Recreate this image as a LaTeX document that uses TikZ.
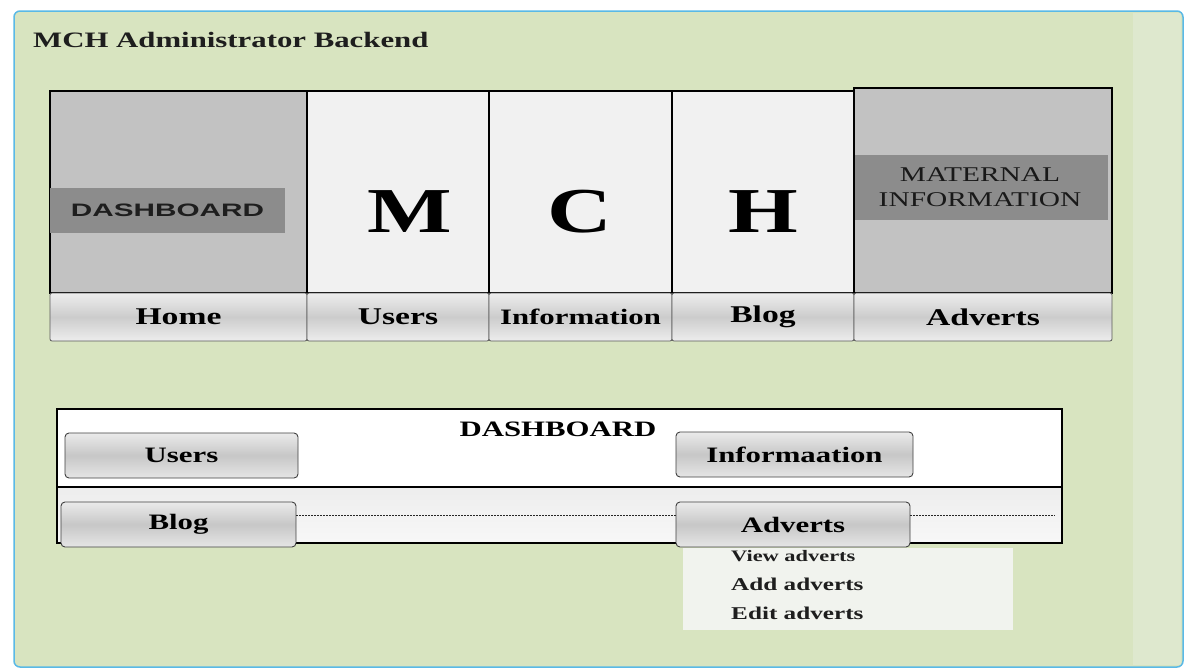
\documentclass[tikz,border=0pt]{standalone}
\usepackage{fontspec}
\setmainfont{Liberation Serif}
\newfontfamily\wserif[FakeStretch=1.4]{Liberation Serif}
\newfontfamily\wsans[FakeStretch=1.65]{Liberation Sans}
\definecolor{bggreen}{RGB}{216,228,192}
\definecolor{bgband}{RGB}{222,232,206}
\definecolor{framblue}{RGB}{90,185,230}
\definecolor{colgray}{RGB}{194,194,194}
\definecolor{bandgray}{RGB}{140,140,140}
\definecolor{colwhite}{RGB}{241,241,241}
\definecolor{txtdark}{RGB}{30,30,30}
\definecolor{menubg}{RGB}{241,243,238}
\tikzset{
  colbox/.style={draw=black, line width=1.2pt, inner sep=0pt},
  bandbox/.style={fill=bandgray, inner sep=0pt},
  lbl/.style={draw=black!65, line width=0.8pt, rounded corners=2pt,
    top color=white!93!black, bottom color=white!93!black, middle color=black!20,
    inner sep=0pt, font=\wserif\bfseries\fontsize{24}{28}\selectfont},
  btn/.style={draw=black!75, line width=0.9pt, rounded corners=4pt,
    top color=white!92!black, bottom color=white!90!black, middle color=black!22,
    inner sep=0pt, font=\wserif\bfseries\fontsize{22}{26}\selectfont},
  bigletter/.style={inner sep=0pt, font=\wserif\bfseries\fontsize{64}{70}\selectfont},
  menutext/.style={anchor=base west, inner sep=0pt, text=txtdark,
    font=\wserif\bfseries\fontsize{18}{22}\selectfont},
  dotline/.style={draw=black!85, line width=1pt, dash pattern=on 2pt off 1pt},
}
\begin{document}
\begin{tikzpicture}[x=1pt,y=-1pt]
\useasboundingbox (0,0) rectangle (1195,670);
\fill[white] (0,0) rectangle (1195,670);
% outer frame
\fill[bggreen, rounded corners=6pt] (14,11) rectangle (1183,667);
\fill[bgband] (1133,13) rectangle (1181,665);
\draw[framblue, line width=1.5pt, rounded corners=6pt] (14,11) rectangle (1183,667);

% title
\node[anchor=base west, inner sep=0pt, text=txtdark, font=\wserif\bfseries\fontsize{22}{26}\selectfont]
  (title) at (33,47) {MCH Administrator Backend};

% top columns
\node[colbox, fill=colgray, minimum width=257pt, minimum height=202pt] (homecol) at (178.5,192) {};
\node[colbox, fill=colwhite, minimum width=182pt, minimum height=202pt] (userscol) at (398,192) {};
\node[colbox, fill=colwhite, minimum width=183pt, minimum height=202pt] (infocol) at (580.5,192) {};
\node[colbox, fill=colwhite, minimum width=182pt, minimum height=202pt] (blogcol) at (763,192) {};
\node[colbox, fill=colgray, minimum width=258pt, minimum height=205pt] (advcol) at (983,190.5) {};

% bands
\node[bandbox, minimum width=235pt, minimum height=45pt, text=txtdark,
  font=\wsans\bfseries\fontsize{18}{22}\selectfont] (dashband) at (167.5,210.5) {DASHBOARD};
\node[bandbox, minimum width=253pt, minimum height=65pt] (matband) at (981.5,187.5) {};
\node[inner sep=0pt, align=center, text=black!90,
  font=\wserif\fontsize{21}{25}\selectfont] (mattext) at (980,187) {MATERNAL\\INFORMATION};

% big letters
\node[bigletter] (letm) at (410,212) {M};
\node[bigletter] (letc) at (580,212) {C};
\node[bigletter] (leth) at (763,212) {H};

% label row
\node[lbl, minimum width=257pt, minimum height=48pt] (homel) at (178.5,317) {Home};
\node[lbl, minimum width=182pt, minimum height=48pt] (usersl) at (398,317) {Users};
\node[lbl, minimum width=183pt, minimum height=48pt,
  font=\wserif\bfseries\fontsize{22}{26}\selectfont] (infol) at (580.5,317) {Information};
\node[lbl, minimum width=182pt, minimum height=48pt] (blogl) at (763,317) {Blog};
\node[lbl, minimum width=258pt, minimum height=48pt] (advl) at (983,317) {Adverts};

% bottom dashboard panel
\node[draw=black, line width=1.2pt, fill=white, inner sep=0pt,
  minimum width=1005pt, minimum height=78pt] (dashtop) at (559.5,448) {};
\node[draw=black, line width=1.2pt, inner sep=0pt, top color=white!93!black, bottom color=white!97!black,
  minimum width=1005pt, minimum height=56pt] (dashbot) at (559.5,515) {};
\node[inner sep=0pt, font=\wserif\bfseries\fontsize{22}{26}\selectfont] (dashtitle) at (558,429.5) {DASHBOARD};

\coordinate (dl) at (0,515);
\coordinate (dlend) at (1055,515);

\node[btn, minimum width=233pt, minimum height=45pt] (users2) at (181.5,455.5) {Users};
\node[btn, minimum width=237pt, minimum height=45pt] (info2) at (794.5,454.5) {Informaation};
\node[btn, minimum width=235pt, minimum height=45pt] (blog2) at (178.5,524.5) {Blog};
\node[btn, minimum width=234pt, minimum height=45pt] (adv2) at (793,524.5) {Adverts};

\draw[dotline] (blog2.east |- dl) -- (adv2.west |- dl);
\draw[dotline] (adv2.east |- dl) -- (dlend);

% dropdown menu
\node[fill=menubg, inner sep=0pt, minimum width=330pt, minimum height=82pt] (menu) at (848,589) {};
\node[menutext, font=\wserif\bfseries\fontsize{16}{20}\selectfont] (viewad) at (731,561) {View adverts};
\node[menutext] (addad) at (731,590) {Add adverts};
\node[menutext] (editad) at (731,619) {Edit adverts};
\end{tikzpicture}
\end{document}
